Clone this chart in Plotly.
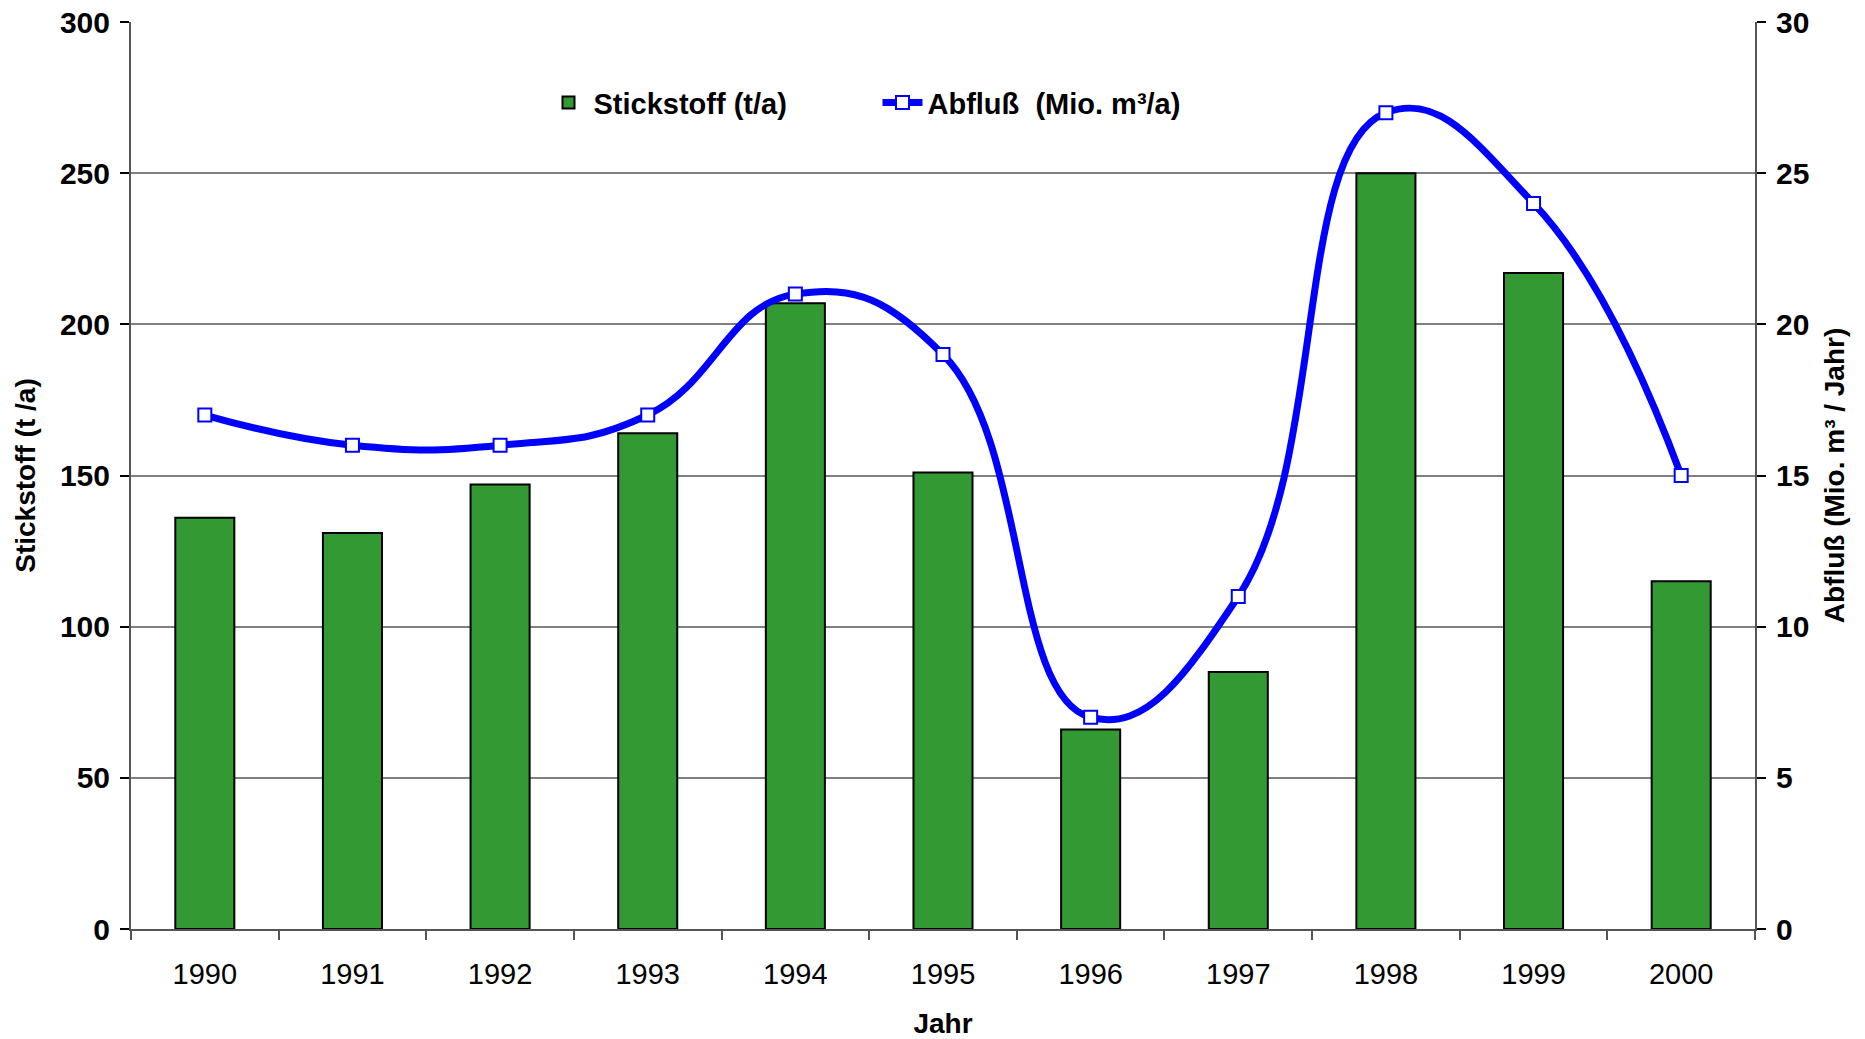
import plotly.graph_objects as go

# Jährliche Stickstofffracht und Abfluss
jahre = ["1990", "1991", "1992", "1993", "1994", "1995", "1996", "1997", "1998", "1999", "2000"]
stickstoff = [136, 131, 147, 164, 207, 151, 66, 85, 250, 217, 115]
abfluss = [17, 16, 16, 17, 21, 19, 7, 11, 27, 24, 15]

FONT = "Liberation Sans, Arial, sans-serif"
AXIS_COLOR = "#555555"

fig = go.Figure()

fig.add_trace(go.Bar(
    x=jahre, y=stickstoff, name="Stickstoff (t/a)",
    marker=dict(color="#339933", line=dict(color="#000000", width=2)),
    width=0.4, yaxis="y",
))

fig.add_trace(go.Scatter(
    x=jahre, y=abfluss, name="Abfluß  (Mio. m³/a)", yaxis="y2",
    mode="lines+markers",
    line=dict(color="#0000FF", width=7, shape="spline", smoothing=1.3),
    marker=dict(symbol="square", size=13, color="#FFFFFF",
                line=dict(color="#0000FF", width=2)),
))

fig.update_layout(
    width=1865, height=1039,
    margin=dict(l=131, r=110, t=22, b=110),
    paper_bgcolor="#FFFFFF", plot_bgcolor="#FFFFFF",
    font=dict(family=FONT, color="#000000", size=29),
    bargap=0.6,
    showlegend=True,
    legend=dict(
        orientation="h", x=0.254, y=0.911, xanchor="left", yanchor="middle",
        font=dict(family=FONT, size=29, color="#000000", weight="bold"),
        bgcolor="rgba(0,0,0,0)", entrywidth=279, entrywidthmode="pixels",
        itemwidth=40,
    ),
    xaxis=dict(
        type="category", range=[-0.5, 10.5], automargin=False,
        showline=True, linecolor=AXIS_COLOR, linewidth=2,
        mirror=False, ticks="outside", tickson="boundaries", ticklen=9,
        tickcolor=AXIS_COLOR, tickwidth=1.5, showgrid=False,
        tickfont=dict(size=29, family=FONT),
        ticklabelstandoff=18,
        title=dict(text="<b>Jahr</b>", font=dict(size=28, family=FONT), standoff=30),
    ),
    yaxis=dict(
        range=[0, 300], tickvals=[0, 50, 100, 150, 200, 250, 300],
        automargin=False,
        showline=True, linecolor=AXIS_COLOR, linewidth=2,
        ticks="outside", ticklen=9, tickcolor="#000000", tickwidth=1.5,
        showgrid=True, gridcolor="#808080", gridwidth=1.5,
        zeroline=False,
        tickfont=dict(size=30, family=FONT, weight="bold"),
        ticklabelstandoff=4,
        title=dict(text="<b>Stickstoff (t /a)</b>", font=dict(size=28, family=FONT), standoff=16),
    ),
    yaxis2=dict(
        range=[0, 30], tickvals=[0, 5, 10, 15, 20, 25, 30],
        overlaying="y", side="right", automargin=False,
        showline=True, linecolor=AXIS_COLOR, linewidth=2,
        ticks="outside", ticklen=9, tickcolor="#000000", tickwidth=1.5,
        showgrid=False, zeroline=False,
        tickfont=dict(size=30, family=FONT, weight="bold"),
        ticklabelstandoff=4,
        title=dict(text="<b>Abfluß (Mio. m³ / Jahr)</b>", font=dict(size=28, family=FONT), standoff=16),
    ),
)

fig.write_html("out.html")
